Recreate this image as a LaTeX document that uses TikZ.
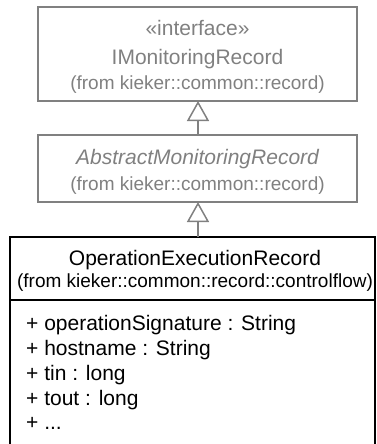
\documentclass[tikz,border=0pt]{standalone}
\usepackage{fontspec}
\setmainfont{Liberation Sans}
\usetikzlibrary{arrows.meta}
\definecolor{umlgray}{HTML}{808080}
\newcommand{\bigtxt}{\fontsize{21pt}{25pt}\selectfont}
\newcommand{\smalltxt}{\fontsize{19pt}{23pt}\selectfont}
\begin{document}
\begin{tikzpicture}[x=1pt,y=-1pt,
  grayclass/.style={draw=umlgray,line width=1.5pt,inner sep=0pt,outer sep=0pt},
  graytext/.style={text=umlgray,inner sep=0pt,anchor=base},
  blacktext/.style={text=black,inner sep=0pt,anchor=base},
  attrtext/.style={text=black,inner sep=0pt,anchor=base west},
  gen/.style={draw=umlgray,line width=1.5pt,-{Triangle[open,length=20pt,width=22pt]}}]
\useasboundingbox (0,0) rectangle (377,444);
\clip (0,0) rectangle (377,444);
% interface
\node[grayclass,minimum width=319pt,minimum height=94pt] (imr) at (197.5,54) {};
\node[graytext,font=\bigtxt] (imrst) at (197.5,36) {«interface»};
\node[graytext,font=\bigtxt] (imrname) at (197.5,64) {IMonitoringRecord};
\node[graytext,font=\smalltxt] (imrpkg) at (197.5,89) {(from kieker::common::record)};
% abstract class
\node[grayclass,minimum width=319pt,minimum height=67pt] (amr) at (197.5,168.5) {};
\node[graytext,font=\bigtxt\itshape] (amrname) at (197.5,164) {AbstractMonitoringRecord};
\node[graytext,font=\smalltxt] (amrpkg) at (197.5,190) {(from kieker::common::record)};
% concrete class
\node[draw=black,line width=1.2pt,inner sep=0pt,outer sep=0pt,minimum width=365pt,minimum height=223pt] (oer) at (192.5,348.5) {};
\draw[line width=2.6pt] (oer.north west) -- (oer.south west);
\draw[line width=1.2pt] (oer.west |- 0,300) -- (oer.east |- 0,300);
\node[blacktext,font=\bigtxt] (oername) at (195,265) {OperationExecutionRecord};
\node[blacktext,font=\smalltxt] (oerpkg) at (195,287) {(from kieker::common::record::controlflow)};
\node[attrtext,font=\bigtxt] (a1) at (26,330) {+ operationSignature : String};
\node[attrtext,font=\bigtxt] (a2) at (26,355) {+ hostname : String};
\node[attrtext,font=\bigtxt] (a3) at (26,380) {+ tin : long};
\node[attrtext,font=\bigtxt] (a4) at (26,405) {+ tout : long};
\node[attrtext,font=\bigtxt] (a5) at (26,429) {+ ...};
% generalizations
\draw[gen] (amr.north -| 198,0) -- (imr.south -| 198,0);
\draw[gen] (oer.north -| 198,0) -- (amr.south -| 198,0);
\end{tikzpicture}
\end{document}
